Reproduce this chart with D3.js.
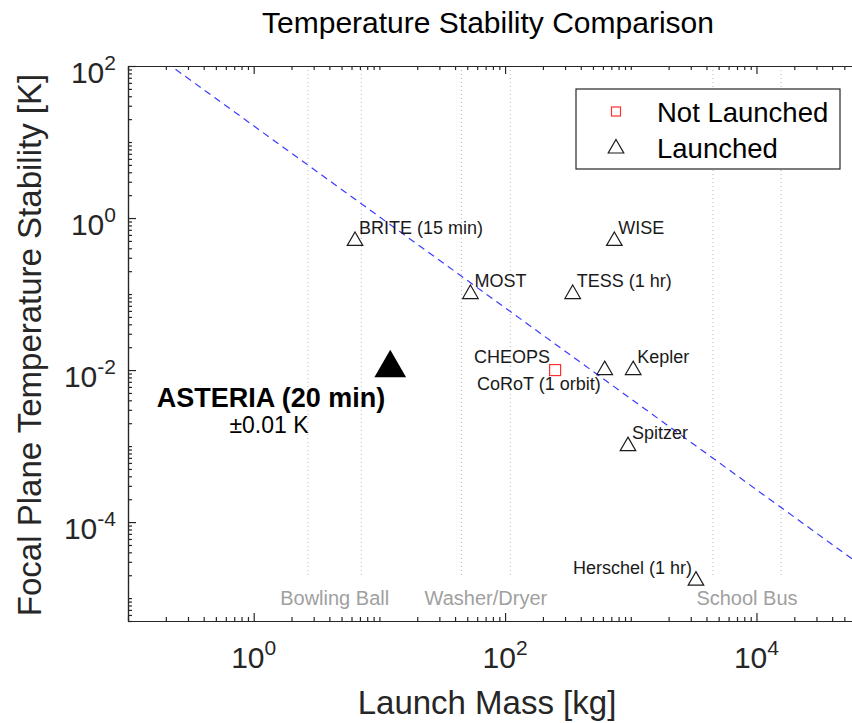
<!DOCTYPE html>
<html>
<head>
<meta charset="utf-8">
<script src="https://cdn.jsdelivr.net/npm/d3@7"></script>
<style>
  body { margin: 0; background: #fff; }
  text { font-family: "Liberation Sans", Arial, Helvetica, sans-serif; }
</style>
</head>
<body>
<div id="chart"></div>
<script>
// launched missions (open triangles)
var launchedNames = ["BRITE (15 min)", "MOST", "TESS (1 hr)", "WISE", "CoRoT (1 orbit)", "Kepler", "Spitzer", "Herschel (1 hr)"];
var launchedMass = [6.4, 53, 345, 740, 620, 1045, 950, 3300];
var launchedStability = [0.5, 0.1, 0.1, 0.5, 0.01, 0.01, 0.001, 1.7e-5];

// not launched (red square)
var pendingNames = ["CHEOPS"];
var pendingMass = [250];
var pendingStability = [0.01];

// ASTERIA
var asteriaMass = [12.2];
var asteriaStability = [0.01];

// dashed trend line end points
var trendMass = [0.2, 70000];
var trendStability = [112, 2.6e-5];

// everyday-object mass ranges
var objectNames = ["Bowling Ball", "Washer/Dryer", "School Bus"];
var objectLow = [2.7, 45, 4500];
var objectHigh = [7.2, 110, 15700];

var xTickLabels = [1, 100, 10000];
var yTickLabels = [100, 1, 0.01, 0.0001];

var width = 852, height = 723;
var plotL = 128, plotR = 862.7, plotT = 66, plotB = 621;
var axisColor = "#262626";

var svg = d3.select("#chart").append("svg")
  .attr("width", width)
  .attr("height", height);

var x = d3.scaleLog().domain([0.1, 70000]).range([plotL, plotR]);
var y = d3.scaleLog().domain([5e-6, 100]).range([plotB, plotT]);

svg.append("defs").append("clipPath")
  .attr("id", "plotclip")
  .append("rect")
  .attr("x", plotL)
  .attr("y", plotT)
  .attr("width", plotR - plotL)
  .attr("height", plotB - plotT);

var plot = svg.append("g").attr("clip-path", "url(#plotclip)");

// object range guide lines
var guideVals = [];
objectNames.forEach(function (n, i) {
  guideVals.push(objectLow[i], objectHigh[i]);
});
plot.selectAll(".guide")
  .data(guideVals)
  .enter().append("line")
  .attr("class", "guide")
  .attr("x1", function (d) { return x(d); })
  .attr("x2", function (d) { return x(d); })
  .attr("y1", plotT)
  .attr("y2", 577)
  .attr("stroke", "#b8b8b8")
  .attr("stroke-width", 1)
  .attr("stroke-dasharray", "1,3");

plot.selectAll(".objlabel")
  .data(objectNames)
  .enter().append("text")
  .attr("class", "objlabel")
  .attr("x", function (d, i) { return (x(objectLow[i]) + x(objectHigh[i])) / 2; })
  .attr("y", 605)
  .attr("text-anchor", "middle")
  .attr("font-size", 20)
  .attr("fill", "#a0a0a0")
  .text(function (d) { return d; });

// trend line
plot.append("line")
  .attr("x1", x(trendMass[0]))
  .attr("y1", y(trendStability[0]))
  .attr("x2", x(trendMass[1]))
  .attr("y2", y(trendStability[1]))
  .attr("stroke", "#3b3bff")
  .attr("stroke-width", 1.2)
  .attr("stroke-dasharray", "7,5");

// axes: minor ticks and major ticks, inward, on all four sides
var xAll = x.ticks().filter(function (d) { return d >= 0.1 && d <= 70000; });
var yAll = y.ticks().filter(function (d) { return d >= 5e-6 && d <= 100; });
var xMinor = xAll.filter(function (d) { return xTickLabels.indexOf(d) < 0; });
var yMinor = yAll.filter(function (d) { return yTickLabels.indexOf(d) < 0; });

function styleAxis(g) {
  g.selectAll("path, line").attr("stroke", axisColor).attr("stroke-width", 1.2);
  g.selectAll("text").remove();
}

svg.append("g").attr("transform", "translate(0," + plotB + ")")
  .call(d3.axisBottom(x).tickValues(xMinor).tickSizeInner(-4).tickSizeOuter(0).tickFormat(""))
  .call(styleAxis);
svg.append("g").attr("transform", "translate(0," + plotB + ")")
  .call(d3.axisBottom(x).tickValues(xTickLabels).tickSizeInner(-8).tickSizeOuter(0).tickFormat(""))
  .call(styleAxis);
svg.append("g").attr("transform", "translate(0," + plotT + ")")
  .call(d3.axisTop(x).tickValues(xMinor).tickSizeInner(-4).tickSizeOuter(0).tickFormat(""))
  .call(styleAxis);
svg.append("g").attr("transform", "translate(0," + plotT + ")")
  .call(d3.axisTop(x).tickValues(xTickLabels).tickSizeInner(-8).tickSizeOuter(0).tickFormat(""))
  .call(styleAxis);
svg.append("g").attr("transform", "translate(" + plotL + ",0)")
  .call(d3.axisLeft(y).tickValues(yMinor).tickSizeInner(-4).tickSizeOuter(0).tickFormat(""))
  .call(styleAxis);
svg.append("g").attr("transform", "translate(" + plotL + ",0)")
  .call(d3.axisLeft(y).tickValues(yTickLabels).tickSizeInner(-8).tickSizeOuter(0).tickFormat(""))
  .call(styleAxis);
svg.append("g").attr("transform", "translate(" + plotR + ",0)")
  .call(d3.axisRight(y).tickValues(yAll).tickSizeInner(-4).tickSizeOuter(0).tickFormat(""))
  .call(styleAxis);

// tick labels as 10^n
function exponent(d) { return Math.round(Math.log10(d)); }

var xl = svg.selectAll(".xtick")
  .data(xTickLabels)
  .enter().append("text")
  .attr("class", "xtick")
  .attr("x", function (d) { return x(d); })
  .attr("y", 668)
  .attr("text-anchor", "middle")
  .attr("font-size", 30)
  .attr("fill", axisColor);
xl.append("tspan").text("10");
xl.append("tspan").attr("dy", -13).attr("font-size", 21).text(function (d) { return exponent(d); });

var yl = svg.selectAll(".ytick")
  .data(yTickLabels)
  .enter().append("text")
  .attr("class", "ytick")
  .attr("x", 116)
  .attr("y", function (d) { return y(d) + 17; })
  .attr("text-anchor", "end")
  .attr("font-size", 30)
  .attr("fill", axisColor);
yl.append("tspan").text("10");
yl.append("tspan").attr("dy", -13).attr("font-size", 21).text(function (d) { return exponent(d); });

// markers
var tri = d3.symbol().type(d3.symbolTriangle).size(105);
svg.selectAll(".launched")
  .data(launchedNames)
  .enter().append("path")
  .attr("class", "launched")
  .attr("d", tri)
  .attr("transform", function (d, i) {
    return "translate(" + x(launchedMass[i]) + "," + y(launchedStability[i]) + ")";
  })
  .attr("fill", "none")
  .attr("stroke", "#1a1a1a")
  .attr("stroke-width", 1.2);

svg.selectAll(".pending")
  .data(pendingNames)
  .enter().append("rect")
  .attr("class", "pending")
  .attr("x", function (d, i) { return x(pendingMass[i]) - 5.5; })
  .attr("y", function (d, i) { return y(pendingStability[i]) - 5.5; })
  .attr("width", 11)
  .attr("height", 11)
  .attr("fill", "none")
  .attr("stroke", "#ff3030")
  .attr("stroke-width", 1.2);

svg.append("path")
  .attr("d", d3.symbol().type(d3.symbolTriangle).size(435))
  .attr("transform", "translate(" + x(asteriaMass[0]) + "," + (y(asteriaStability[0]) - 2) + ")")
  .attr("fill", "#000");

// point labels
var endAnchored = ["CoRoT (1 orbit)", "Herschel (1 hr)"];
svg.selectAll(".plabel")
  .data(launchedNames)
  .enter().append("text")
  .attr("class", "plabel")
  .attr("x", function (d, i) {
    return endAnchored.indexOf(d) >= 0 ? x(launchedMass[i]) - 4 : x(launchedMass[i]) + 4;
  })
  .attr("y", function (d, i) {
    return d === "CoRoT (1 orbit)" ? y(launchedStability[i]) + 20 : y(launchedStability[i]) - 7;
  })
  .attr("text-anchor", function (d) { return endAnchored.indexOf(d) >= 0 ? "end" : "start"; })
  .attr("font-size", 18)
  .attr("fill", "#1a1a1a")
  .text(function (d) { return d; });

svg.selectAll(".qlabel")
  .data(pendingNames)
  .enter().append("text")
  .attr("class", "qlabel")
  .attr("x", function (d, i) { return x(pendingMass[i]) - 5; })
  .attr("y", function (d, i) { return y(pendingStability[i]) - 7; })
  .attr("text-anchor", "end")
  .attr("font-size", 18)
  .attr("fill", "#1a1a1a")
  .text(function (d) { return d; });

svg.append("text")
  .attr("x", x(asteriaMass[0]) - 5)
  .attr("y", y(asteriaStability[0]) + 37)
  .attr("text-anchor", "end")
  .attr("font-size", 27)
  .attr("font-weight", "bold")
  .attr("fill", "#000")
  .text("ASTERIA (20 min)");

svg.append("text")
  .attr("x", 269)
  .attr("y", y(asteriaStability[0]) + 63)
  .attr("text-anchor", "middle")
  .attr("font-size", 23)
  .attr("fill", "#000")
  .text("\u00b10.01 K");

// legend
var legend = svg.append("g");
legend.append("rect")
  .attr("x", 576)
  .attr("y", 89)
  .attr("width", 264)
  .attr("height", 80)
  .attr("fill", "#fff")
  .attr("stroke", axisColor)
  .attr("stroke-width", 1.2);
legend.append("rect")
  .attr("x", 611.5)
  .attr("y", 107)
  .attr("width", 9)
  .attr("height", 9)
  .attr("fill", "none")
  .attr("stroke", "#ff3030")
  .attr("stroke-width", 1.2);
legend.append("path")
  .attr("d", tri)
  .attr("transform", "translate(616,148.5)")
  .attr("fill", "none")
  .attr("stroke", "#1a1a1a")
  .attr("stroke-width", 1.2);
legend.append("text")
  .attr("x", 657)
  .attr("y", 122)
  .attr("font-size", 27.5)
  .attr("fill", "#000")
  .text("Not Launched");
legend.append("text")
  .attr("x", 657)
  .attr("y", 158)
  .attr("font-size", 27.5)
  .attr("fill", "#000")
  .text("Launched");

// titles
svg.append("text")
  .attr("x", 488)
  .attr("y", 33)
  .attr("text-anchor", "middle")
  .attr("font-size", 30)
  .attr("fill", "#000")
  .text("Temperature Stability Comparison");

svg.append("text")
  .attr("x", 487)
  .attr("y", 714)
  .attr("text-anchor", "middle")
  .attr("font-size", 33)
  .attr("fill", axisColor)
  .text("Launch Mass [kg]");

svg.append("text")
  .attr("transform", "translate(41,345) rotate(-90)")
  .attr("text-anchor", "middle")
  .attr("font-size", 33)
  .attr("fill", axisColor)
  .text("Focal Plane Temperature Stability [K]");
</script>
</body>
</html>
